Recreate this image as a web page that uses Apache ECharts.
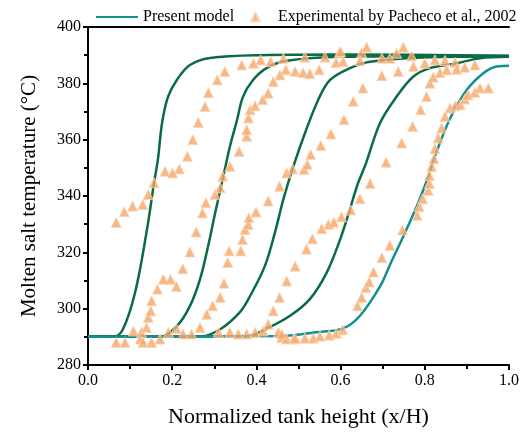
<!DOCTYPE html>
<html lang="en">
  <head>
    <meta charset="UTF-8" />
    <title>Molten salt thermocline profiles</title>
    <script src="https://cdn.jsdelivr.net/npm/echarts@6/dist/echarts.min.js"></script>
    <style>
      * {
        margin: 0;
        padding: 0;
      }
      body {
        background: #fff;
      }
      #chart {
        width: 522px;
        height: 433px;
      }
    </style>
  </head>
  <body>
    <div id="chart"></div>
    <script>
      // model curves [x/H, T]
      const model1 = [[0, 290], [0.06, 290], [0.083, 292.7], [0.112, 305.8], [0.14, 328], [0.157, 344.8], [0.166, 352.9], [0.176, 366], [0.19, 375.2], [0.211, 381.2], [0.242, 386.5], [0.29, 389], [0.41, 390], [0.6, 390.2], [1.0, 389.8]];
      const model2 = [[0, 290], [0.17, 290], [0.211, 293.8], [0.242, 300.9], [0.266, 310.4], [0.285, 322], [0.302, 334], [0.32, 346], [0.337, 357.5], [0.354, 367], [0.368, 375.2], [0.392, 381.2], [0.425, 385.5], [0.473, 388], [0.6, 389.4], [1.0, 389.7]];
      const model3 = [[0, 290], [0.27, 290.2], [0.314, 292.7], [0.361, 298.8], [0.385, 304.5], [0.42, 315.1], [0.444, 327], [0.464, 338.8], [0.488, 350.6], [0.517, 363], [0.547, 374.2], [0.575, 381.2], [0.622, 385.4], [0.67, 387.7], [0.8, 389.2], [1.0, 389.5]];
      const model4 = [[0, 290], [0.38, 290.3], [0.42, 292.6], [0.48, 297.5], [0.527, 303.4], [0.567, 312.8], [0.599, 324.6], [0.622, 335.2], [0.64, 344], [0.66, 351.5], [0.694, 366], [0.733, 375.3], [0.773, 382.4], [0.812, 385.4], [0.876, 387.1], [0.931, 388.9], [1.0, 389.4]];
      const model5 = [[0, 290], [0.46, 290.3], [0.543, 291.6], [0.606, 293], [0.646, 297.5], [0.694, 308], [0.72, 316.5], [0.75, 326], [0.78, 336], [0.805, 345.5], [0.825, 354.5], [0.86, 367.5], [0.9, 377.7], [0.939, 383.6], [0.971, 386], [1.0, 386.2]];

      // experimental points (Pacheco et al., 2002)
      const exp1 = [[0.067, 330.6], [0.086, 334.4], [0.106, 336.4], [0.13, 337], [0.143, 340.5], [0.157, 344.7], [0.183, 348.8], [0.201, 348.2], [0.217, 349.6], [0.236, 354.1], [0.249, 360], [0.262, 366.1], [0.278, 371.8], [0.286, 376.7], [0.307, 381.2], [0.325, 384.2], [0.365, 386.5], [0.393, 387.1], [0.41, 388.3], [0.434, 387.7], [0.464, 388.9], [0.515, 389.3], [0.563, 389.3], [0.597, 390.9], [0.65, 390.9], [0.662, 392.8], [0.749, 392.8]];
      const exp2 = [[0.067, 288], [0.088, 288], [0.108, 292.1], [0.124, 289.2], [0.127, 291.6], [0.131, 288], [0.139, 293.3], [0.143, 296.9], [0.149, 299.2], [0.151, 302.8], [0.151, 288], [0.165, 306.9], [0.171, 289.2], [0.179, 310.4], [0.191, 291.6], [0.196, 310.4], [0.21, 307.9], [0.21, 293], [0.225, 314.2], [0.226, 291], [0.242, 320.1], [0.246, 291], [0.257, 327.2], [0.266, 293.3], [0.272, 334], [0.28, 337.6], [0.302, 340.5], [0.314, 342.9], [0.32, 347], [0.337, 350.5], [0.359, 355.8], [0.377, 361.2], [0.377, 363.5], [0.381, 367.7], [0.385, 370.6], [0.397, 372], [0.415, 374.2], [0.428, 376.5], [0.44, 380.6], [0.456, 383], [0.47, 384.8], [0.492, 384.2], [0.511, 383.8], [0.527, 383.4], [0.549, 384.8], [0.589, 387.4], [0.606, 387.7], [0.646, 388.1], [0.698, 388.9], [0.717, 388.9], [0.733, 390.7], [0.769, 389.7], [0.6, 391.3]];
      const exp3 = [[0.282, 298], [0.296, 301], [0.314, 304], [0.323, 309], [0.332, 316.4], [0.335, 320.5], [0.363, 320.5], [0.367, 324.6], [0.373, 328.1], [0.381, 329.9], [0.382, 332.3], [0.399, 334.3], [0.428, 338.2], [0.455, 343.5], [0.472, 348.2], [0.486, 349.6], [0.513, 349.4], [0.521, 351.2], [0.529, 354.7], [0.553, 357.9], [0.577, 362], [0.608, 367.1], [0.63, 373.6], [0.653, 378.3], [0.698, 382.7], [0.737, 384.2], [0.773, 386], [0.8, 387.1], [0.824, 388.3], [0.848, 388.1], [0.872, 387.4], [0.919, 386.5], [0.31, 291.6], [0.337, 291.6], [0.357, 291], [0.377, 291], [0.397, 291.6], [0.416, 292.1], [0.428, 294.5], [0.452, 291.6]];
      const exp4 = [[0.46, 289.8], [0.472, 289.2], [0.488, 289.2], [0.44, 299.2], [0.455, 304], [0.472, 309.8], [0.492, 315.1], [0.519, 321.1], [0.533, 324.8], [0.555, 328.4], [0.571, 329.9], [0.584, 330.7], [0.602, 332.6], [0.624, 335], [0.646, 339], [0.67, 344.4], [0.708, 352], [0.745, 358.8], [0.771, 364.7], [0.79, 370.6], [0.804, 375.3], [0.812, 380], [0.82, 382.2], [0.836, 383.8], [0.852, 384.8], [0.876, 385], [0.895, 385.7], [0.46, 291], [0.492, 289.5], [0.515, 289.5], [0.535, 289.5], [0.551, 290.2], [0.573, 290.6], [0.59, 291.3], [0.605, 292.5]];
      const exp5 = [[0.64, 301], [0.65, 304], [0.66, 307.5], [0.668, 309.5], [0.678, 313], [0.698, 318.1], [0.717, 322.5], [0.747, 327.9], [0.782, 333.1], [0.787, 336.2], [0.795, 339], [0.808, 342], [0.811, 344.4], [0.811, 347.3], [0.816, 350.4], [0.822, 353.2], [0.824, 356.8], [0.832, 360.6], [0.84, 364.1], [0.848, 368.2], [0.86, 371.2], [0.872, 372], [0.884, 372.4], [0.895, 374.4], [0.903, 375.9], [0.919, 376.8], [0.931, 378.3], [0.951, 378.3]];

      const green = "#0b6b45";
      const teal = "#12908e";
      const orange = "#f5a66a";
      const font = "'Liberation Serif', 'Times New Roman', serif";
      const expName = "Experimental by Pacheco et al., 2002";

      const chart = echarts.init(document.getElementById("chart"));

      const lineSeries = (name, data, color) => ({
        name: name,
        type: "line",
        data: data,
        smooth: 0.35,
        showSymbol: false,
        symbol: "none",
        lineStyle: { color: color, width: 2.5 },
        itemStyle: { color: color },
        z: 3,
      });

      const pointSeries = (data) => ({
        name: expName,
        type: "scatter",
        data: data,
        symbol: "triangle",
        symbolSize: 10,
        itemStyle: {
          color: orange,
          borderColor: "#fcd6b6",
          borderWidth: 1,
        },
        z: 4,
      });

      const baseAxis = {
        axisLine: { show: true, lineStyle: { color: "#000", width: 2 } },
        splitLine: { show: false },
      };
      const legendText = { fontFamily: font, fontSize: 16, color: "#000" };

      chart.setOption({
        animation: false,
        textStyle: { fontFamily: font },
        grid: { left: 88, right: 13, top: 27, bottom: 67 },
        legend: [
          {
            left: 91,
            top: 4,
            itemWidth: 42,
            itemHeight: 14,
            textStyle: legendText,
            data: [{ name: "Present model", icon: "path://M0,6 L42,6 L42,8 L0,8 Z", itemStyle: { color: teal } }],
          },
          {
            left: 245,
            top: 4,
            itemWidth: 9,
            itemHeight: 9,
            itemGap: 4,
            textStyle: Object.assign({}, legendText, { padding: [0, 0, 0, 13] }),
            data: [{ name: expName, icon: "triangle", itemStyle: { color: orange } }],
          },
        ],
        xAxis: [
          {
            ...baseAxis,
            type: "value",
            min: 0,
            max: 1,
            interval: 0.2,
            name: "Normalized tank height (x/H)",
            nameLocation: "middle",
            nameGap: 41,
            nameTextStyle: { fontFamily: font, fontSize: 22, color: "#000" },
            axisTick: { show: true, length: 5, lineStyle: { color: "#000", width: 2 } },
            minorTick: { show: true, splitNumber: 2, length: 4, lineStyle: { color: "#000", width: 2 } },
            axisLabel: {
              fontFamily: font,
              fontSize: 16,
              color: "#000",
              margin: 8,
              formatter: (v) => v.toFixed(1),
            },
          },
          {
            ...baseAxis,
            type: "value",
            position: "top",
            min: 0,
            max: 1,
            axisTick: { show: false },
            axisLabel: { show: false },
          },
        ],
        yAxis: [
          {
            ...baseAxis,
            type: "value",
            min: 280,
            max: 400,
            interval: 20,
            name: "Molten salt temperature (°C)",
            nameLocation: "middle",
            nameGap: 48,
            nameTextStyle: { fontFamily: font, fontSize: 21, color: "#000" },
            axisTick: { show: true, length: 5, lineStyle: { color: "#000", width: 2 } },
            minorTick: { show: true, splitNumber: 2, length: 4, lineStyle: { color: "#000", width: 2 } },
            axisLabel: { fontFamily: font, fontSize: 16, color: "#000", margin: 7 },
          },
          {
            ...baseAxis,
            type: "value",
            position: "right",
            min: 280,
            max: 400,
            axisTick: { show: false },
            axisLabel: { show: false },
          },
        ],
        series: [
          lineSeries("model1", model1, green),
          lineSeries("model2", model2, green),
          lineSeries("model3", model3, green),
          lineSeries("model4", model4, green),
          lineSeries("Present model", model5, teal),
          pointSeries(exp1),
          pointSeries(exp2),
          pointSeries(exp3),
          pointSeries(exp4),
          pointSeries(exp5),
        ],
      });
    </script>
  </body>
</html>
